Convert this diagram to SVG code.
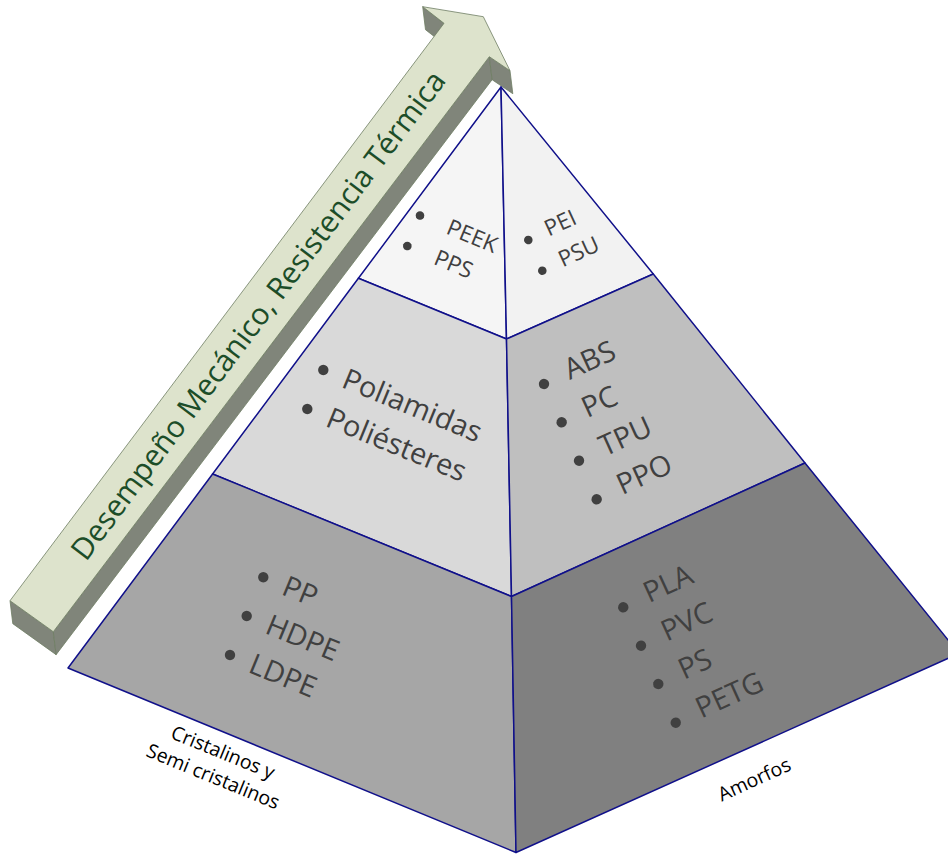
<svg xmlns="http://www.w3.org/2000/svg" width="948" height="854" viewBox="0 0 948 854">
<style>
.edge{stroke:#10108a;stroke-width:1.5;stroke-linejoin:round}
.t{font-family:"Open Sans","Noto Sans",sans-serif;fill:#404040}
.big{font-size:29px}
.small{font-size:22.5px}
.lbl{font-family:"Open Sans","Noto Sans",sans-serif;font-size:19.5px;fill:#000}
.dot{fill:#404040}
.afront{fill:#dde3cc;stroke:#6e7d63;stroke-width:0.8;stroke-linejoin:round}
.aside{fill:#80857a;stroke:#6e7d63;stroke-width:0.8;stroke-linejoin:round}
</style>
<rect width="948" height="854" fill="#ffffff"/>

<g id="arrow">
<polygon class="aside" points="10,600.7 53.3,631.7 56.1,654.7 12.8,623.7"/>
<polygon class="aside" points="53.3,631.7 489.3,56.7 492.1,79.7 56.1,654.7"/>
<polygon class="aside" points="489.3,56.7 510,70.7 512.8,93.7 492.1,79.7"/>
<polygon class="aside" points="444,23.3 422.7,6.7 425.5,29.7 446.8,46.3"/>
<polygon class="afront" points="10,600.7 444,23.3 422.7,6.7 483.3,16.7 510,70.7 489.3,56.7 53.3,631.7"/>
<text transform="translate(266.5,321.5) rotate(-53.13)" text-anchor="middle" style="font-family:'Open Sans','Noto Sans',sans-serif;font-size:30px;fill:#1c4d28">Desempeño Mecánico, Resistencia Térmica</text>
</g>

<g id="tier-top-left">
<polygon class="edge" fill="#f5f5f5" points="501,87 358.4,278.3 506.5,339"/>
<g transform="translate(420,215.5) rotate(22.3)"><circle class="dot" r="4.3"/><text class="t small" x="30" y="7">PEEK</text></g>
<g transform="translate(407.3,246) rotate(22.3)"><circle class="dot" r="4.3"/><text class="t small" x="30" y="7">PPS</text></g>
</g>

<g id="tier-top-right">
<polygon class="edge" fill="#f2f2f2" points="501,87 506.5,339 653.3,274"/>
<g transform="translate(528.3,240) rotate(-24.5)"><circle class="dot" r="4.3"/><text class="t small" x="20" y="5.5">PEI</text></g>
<g transform="translate(542.3,270.7) rotate(-24.5)"><circle class="dot" r="4.3"/><text class="t small" x="20" y="5.5">PSU</text></g>
</g>

<g id="tier-mid-left">
<polygon class="edge" fill="#d9d9d9" points="358.4,278.3 212.6,474 511.5,596.5 506.5,339"/>
<g transform="translate(323.3,370) rotate(22.3)"><circle class="dot" r="5.2"/><text class="t big" x="22" y="9">Poliamidas</text></g>
<g transform="translate(307.3,409) rotate(22.3)"><circle class="dot" r="5.2"/><text class="t big" x="22" y="9">Poliésteres</text></g>
</g>

<g id="tier-mid-right">
<polygon class="edge" fill="#bfbfbf" points="506.5,339 511.5,596.5 805,463 653.3,274"/>
<g transform="translate(544,384) rotate(-24.5)"><circle class="dot" r="5.2"/><text class="t big" x="25" y="7">ABS</text></g>
<g transform="translate(561.7,422.3) rotate(-24.5)"><circle class="dot" r="5.2"/><text class="t big" x="25" y="7">PC</text></g>
<g transform="translate(579,460.7) rotate(-24.5)"><circle class="dot" r="5.2"/><text class="t big" x="25" y="7">TPU</text></g>
<g transform="translate(596.7,499.3) rotate(-24.5)"><circle class="dot" r="5.2"/><text class="t big" x="25" y="7">PPO</text></g>
</g>

<g id="tier-bottom-left">
<polygon class="edge" fill="#a6a6a6" points="212.6,474 68,668 516,852.5 511.5,596.5"/>
<g transform="translate(263.3,577.3) rotate(22.3)"><circle class="dot" r="5.2"/><text class="t big" x="22" y="9">PP</text></g>
<g transform="translate(246.7,616) rotate(22.3)"><circle class="dot" r="5.2"/><text class="t big" x="22" y="9">HDPE</text></g>
<g transform="translate(230,655) rotate(22.3)"><circle class="dot" r="5.2"/><text class="t big" x="22" y="9">LDPE</text></g>
</g>

<g id="tier-bottom-right">
<polygon class="edge" fill="#808080" points="511.5,596.5 516,852.5 959,653.5 805,463"/>
<g transform="translate(623.3,607.3) rotate(-24.5)"><circle class="dot" r="5.2"/><text class="t big" x="25" y="7">PLA</text></g>
<g transform="translate(641,645.7) rotate(-24.5)"><circle class="dot" r="5.2"/><text class="t big" x="25" y="7">PVC</text></g>
<g transform="translate(658.3,684) rotate(-24.5)"><circle class="dot" r="5.2"/><text class="t big" x="25" y="7">PS</text></g>
<g transform="translate(675.7,722.7) rotate(-24.5)"><circle class="dot" r="5.2"/><text class="t big" x="25" y="7">PETG</text></g>
</g>

<g id="label-cristalinos">
<text class="lbl" transform="translate(210.6,782.7) rotate(22.3)" text-anchor="middle"><tspan x="0" y="-26">Cristalinos y</tspan><tspan x="0" y="0">Semi cristalinos</tspan></text>
</g>
<g id="label-amorfos">
<text class="lbl" transform="translate(721.7,801.7) rotate(-24.5)">Amorfos</text>
</g>
</svg>
